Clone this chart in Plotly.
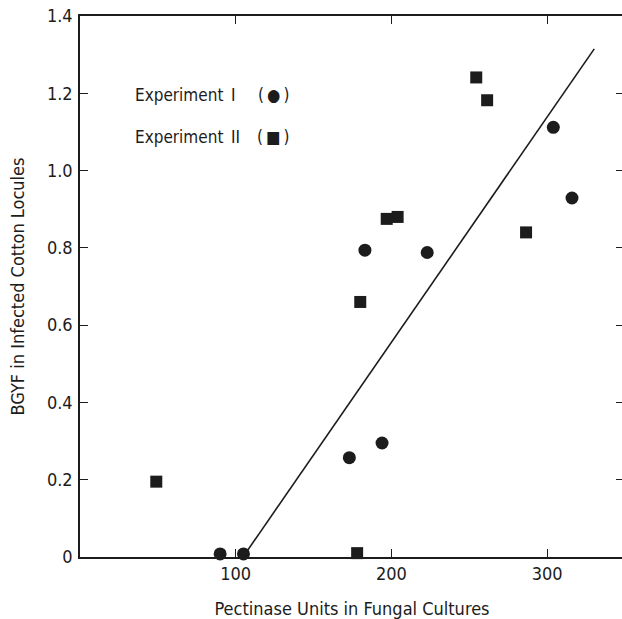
import plotly.graph_objects as go

# Experiment I (circles)
exp1_x = [90, 105, 173, 194, 183, 223, 304, 316]
exp1_y = [0.008, 0.008, 0.257, 0.295, 0.794, 0.788, 1.112, 0.929]

# Experiment II (squares)
exp2_x = [49, 178, 180, 197, 204, 254.5, 261.5, 286.5]
exp2_y = [0.195, 0.01, 0.66, 0.875, 0.88, 1.241, 1.182, 0.84]

# Regression line
line_x = [104.7, 330.3]
line_y = [0.0, 1.315]

x_ticks = [100, 200, 300]
x_ticktext = ["100", "200", "300"]
y_ticks = [0, 0.2, 0.4, 0.6, 0.8, 1.0, 1.2, 1.4]
y_ticktext = ["0", "0.2", "0.4", "0.6", "0.8", "1.0", "1.2", "1.4"]

legend_labels = ["Experiment\u2002I", "Experiment\u2002II"]
legend_symbols = ["(\u2009\u25cf\u2009)", "(\u2009\u25a0\u2009)"]

FONT = "DejaVu Sans Condensed, Liberation Sans, sans-serif"
INK = "#1c1c1c"

fig = go.Figure()
fig.add_trace(go.Scatter(x=line_x, y=line_y, mode="lines",
                         line=dict(color=INK, width=1.6), showlegend=False,
                         cliponaxis=False))
fig.add_trace(go.Scatter(x=exp1_x, y=exp1_y, mode="markers", name="Experiment I",
                         marker=dict(symbol="circle", size=13, color=INK),
                         showlegend=False, cliponaxis=False))
fig.add_trace(go.Scatter(x=exp2_x, y=exp2_y, mode="markers", name="Experiment II",
                         marker=dict(symbol="square", size=12, color=INK),
                         showlegend=False, cliponaxis=False))

for label, sym, yy in zip(legend_labels, legend_symbols, [1.195, 1.087]):
    fig.add_annotation(xref="x", yref="y", x=34, y=yy,
                       xanchor="left", yanchor="middle", showarrow=False,
                       text=label, font=dict(family=FONT, size=17, color=INK))
    fig.add_annotation(xref="x", yref="y", x=124.5, y=yy,
                       xanchor="center", yanchor="middle", showarrow=False,
                       text=sym, font=dict(family=FONT, size=17, color=INK))

axis_common = dict(showline=True, linecolor=INK, linewidth=1.5, mirror="ticks",
                   ticks="inside", ticklen=8, tickwidth=1.4, tickcolor=INK,
                   showgrid=False, zeroline=False, ticklabeloverflow="allow",
                   tickfont=dict(family=FONT, size=18, color=INK))

fig.update_xaxes(range=[0, 349.4], tickvals=x_ticks, ticktext=x_ticktext,
                 title=dict(text="Pectinase Units in Fungal Cultures",
                            font=dict(family=FONT, size=18, color=INK), standoff=27),
                 **axis_common)
fig.update_yaxes(range=[0, 1.4], tickvals=y_ticks, ticktext=y_ticktext,
                 ticklabelstandoff=2,
                 title=dict(text="BGYF in Infected Cotton Locules",
                            font=dict(family=FONT, size=18, color=INK), standoff=18),
                 **axis_common)

fig.update_layout(width=624, height=619,
                  margin=dict(l=80, r=0, t=16, b=62, autoexpand=False),
                  paper_bgcolor="white", plot_bgcolor="white",
                  font=dict(family=FONT, color=INK))

fig.write_html("out.html", config={"displayModeBar": False},
               post_script="document.body.style.margin='0';"
                           "document.body.style.overflow='hidden';")
